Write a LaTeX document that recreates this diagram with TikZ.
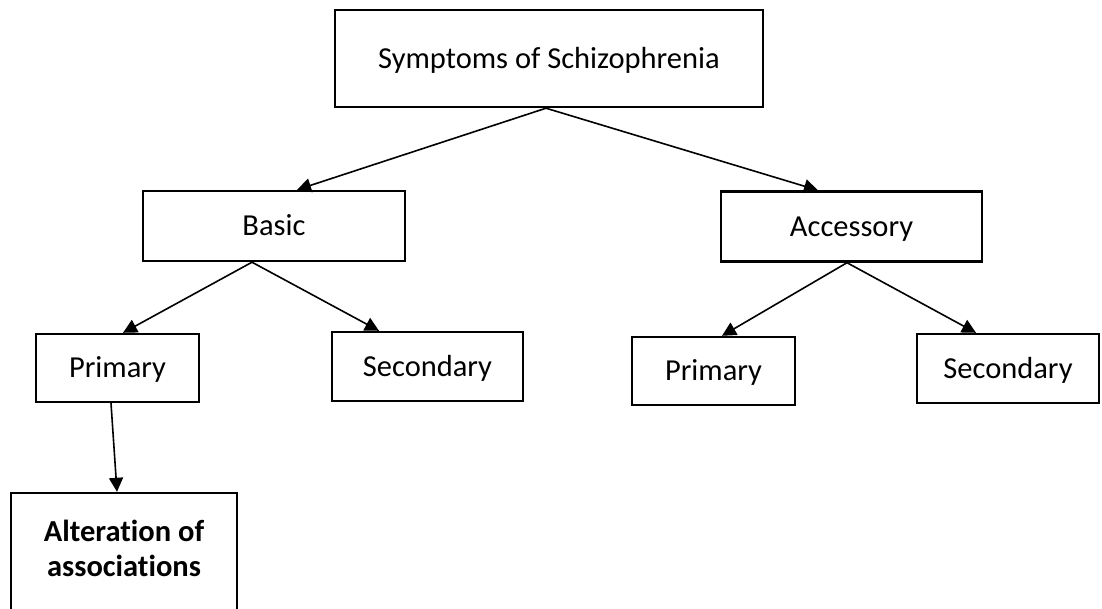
\documentclass[tikz,border=0pt]{standalone}
\usepackage{fontspec}
\setmainfont{Carlito}[Ligatures=NoCommon]
\usetikzlibrary{arrows.meta}
\begin{document}
\begin{tikzpicture}[x=1pt,y=-1pt,
  box/.style={draw, line width=2.4pt, rectangle, inner sep=0pt,
    text height=19.6pt, text depth=0pt,
    font=\fontsize{30.5}{35}\selectfont},
  conn/.style={line width=1.6pt, -{Triangle[length=14pt,width=14pt]}}]
\useasboundingbox (0,0) rectangle (1102,608);
\clip (0,0) rectangle (1102,608);
\node (top) [box, minimum width=428pt, minimum height=97pt] at (549,58.5) {Symptoms of Schizophrenia};
\node (basic) [box, minimum width=262pt, minimum height=70pt] at (274,226) {Basic};
\node (acc) [box, minimum width=261pt, minimum height=70pt] at (851.5,226.5) {Accessory};
\node (p1) [box, minimum width=163pt, minimum height=68pt] at (117.5,368) {Primary};
\node (s1) [box, minimum width=191pt, minimum height=69pt] at (427.5,366.5) {Secondary};
\node (p2) [box, minimum width=163pt, minimum height=68pt] at (713.5,371) {Primary};
\node (s2) [box, minimum width=182pt, minimum height=69pt] at (1008,368.5) {Secondary};
\node (alt) [box, minimum width=226pt, minimum height=127pt,
  label={[align=center, font=\fontsize{30.5}{35}\bfseries, yshift=8.5pt]center:{Alterat\kern0pt ion of\\associat\kern0pt ions}}] at (124,556.5) {};
\draw[conn] ([xshift=-3pt]top.south) -- ([xshift=23pt]basic.north);
\draw[conn] ([xshift=-3pt]top.south) -- ([xshift=-33.5pt]acc.north);
\draw[conn] ([xshift=-22pt]basic.south) -- ([xshift=5.5pt]p1.north);
\draw[conn] ([xshift=-22pt]basic.south) -- ([xshift=-48.5pt]s1.north);
\draw[conn] ([xshift=-4.5pt]acc.south) -- ([xshift=8.5pt]p2.north);
\draw[conn] ([xshift=-4.5pt]acc.south) -- ([xshift=-32pt]s2.north);
\draw[conn] ([xshift=-6.5pt]p1.south) -- ([xshift=-7pt]alt.north);
\end{tikzpicture}
\end{document}
